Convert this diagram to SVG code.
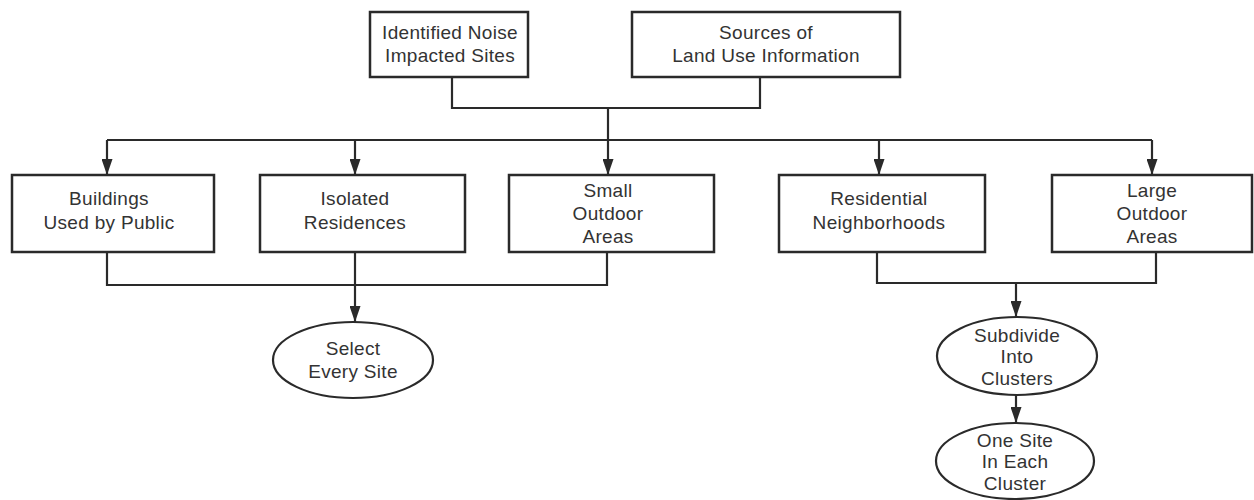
<svg xmlns="http://www.w3.org/2000/svg" width="1254" height="500" viewBox="0 0 1254 500">
<style>
.box{fill:#fff;stroke:#2a2a2a;stroke-width:2.5}
.ell{fill:#fff;stroke:#2a2a2a;stroke-width:2.2}
.ln{fill:none;stroke:#2a2a2a;stroke-width:2.2}
.t{font-family:"Liberation Sans",Arial,sans-serif;font-size:19px;fill:#333;text-anchor:middle;letter-spacing:0.3px}
</style>
<defs>
<marker id="arr" markerUnits="userSpaceOnUse" markerWidth="11" markerHeight="16" viewBox="0 0 11 16" refX="5.5" refY="16" orient="0">
<path d="M0,0 L11,0 L5.5,16 z" fill="#2a2a2a"/>
</marker>
</defs>
<rect width="1254" height="500" fill="#fff"/>
<g id="connectors">
<path class="ln" d="M452,77 V108 H760 V77"/>
<path class="ln" d="M608,108 V140"/>
<path class="ln" d="M107,140 H1152"/>
<path class="ln" d="M107,140 V175" marker-end="url(#arr)"/>
<path class="ln" d="M355,140 V175" marker-end="url(#arr)"/>
<path class="ln" d="M608,140 V175" marker-end="url(#arr)"/>
<path class="ln" d="M879,140 V175" marker-end="url(#arr)"/>
<path class="ln" d="M1152,140 V175" marker-end="url(#arr)"/>
<path class="ln" d="M107,252 V285 H607 V252"/>
<path class="ln" d="M355,252 V322" marker-end="url(#arr)"/>
<path class="ln" d="M877,252 V283 H1156 V252"/>
<path class="ln" d="M1016,283 V317" marker-end="url(#arr)"/>
<path class="ln" d="M1016,395 V423" marker-end="url(#arr)"/>
</g>
<g id="n-identified">
<rect class="box" x="370" y="12" width="158" height="65"/>
<text class="t" x="450" y="39">Identified Noise</text>
<text class="t" x="450" y="62">Impacted Sites</text>
</g>
<g id="n-sources">
<rect class="box" x="632" y="12" width="268" height="65"/>
<text class="t" x="766" y="39">Sources of</text>
<text class="t" x="766" y="62">Land Use Information</text>
</g>
<g id="n-buildings">
<rect class="box" x="12" y="175" width="202" height="77"/>
<text class="t" x="109" y="205">Buildings</text>
<text class="t" x="109" y="229">Used by Public</text>
</g>
<g id="n-isolated">
<rect class="box" x="260" y="175" width="205" height="77"/>
<text class="t" x="355" y="205">Isolated</text>
<text class="t" x="355" y="229">Residences</text>
</g>
<g id="n-small">
<rect class="box" x="509" y="175" width="205" height="77"/>
<text class="t" x="608" y="197">Small</text>
<text class="t" x="608" y="220">Outdoor</text>
<text class="t" x="608" y="243">Areas</text>
</g>
<g id="n-residential">
<rect class="box" x="779" y="175" width="206" height="77"/>
<text class="t" x="879" y="205">Residential</text>
<text class="t" x="879" y="229">Neighborhoods</text>
</g>
<g id="n-large">
<rect class="box" x="1052" y="175" width="200" height="77"/>
<text class="t" x="1152" y="197">Large</text>
<text class="t" x="1152" y="220">Outdoor</text>
<text class="t" x="1152" y="243">Areas</text>
</g>
<g id="n-select">
<ellipse class="ell" cx="353" cy="360" rx="80" ry="38"/>
<text class="t" x="353" y="355">Select</text>
<text class="t" x="353" y="378">Every Site</text>
</g>
<g id="n-subdivide">
<ellipse class="ell" cx="1017" cy="356" rx="80" ry="39"/>
<text class="t" x="1017" y="342">Subdivide</text>
<text class="t" x="1017" y="363">Into</text>
<text class="t" x="1017" y="385">Clusters</text>
</g>
<g id="n-onesite">
<ellipse class="ell" cx="1015" cy="461" rx="79" ry="38"/>
<text class="t" x="1015" y="447">One Site</text>
<text class="t" x="1015" y="468">In Each</text>
<text class="t" x="1015" y="490">Cluster</text>
</g>
</svg>
